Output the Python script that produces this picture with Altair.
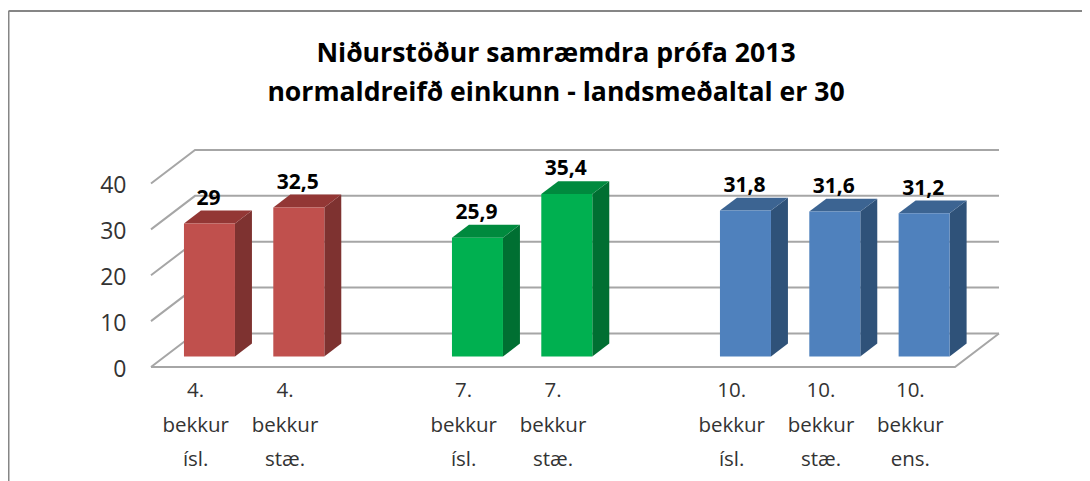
import altair as alt
import pandas as pd

title_lines = ["Niðurstöður samræmdra prófa 2013", "normaldreifð einkunn - landsmeðaltal er 30"]
labels = ["4.\nbekkur\nísl.", "4.\nbekkur\nstæ.", "7.\nbekkur\nísl.", "7.\nbekkur\nstæ.",
          "10.\nbekkur\nísl.", "10.\nbekkur\nstæ.", "10.\nbekkur\nens."]
value_text = ["29", "32,5", "25,9", "35,4", "31,8", "31,6", "31,2"]
values = [29, 32.5, 25.9, 35.4, 31.8, 31.6, 31.2]
slots = [0, 1, 3, 4, 6, 7, 8]
front = ["#C0504D", "#C0504D", "#00B050", "#00B050", "#4F81BD", "#4F81BD", "#4F81BD"]
side = ["#7E3230", "#7E3230", "#006F32", "#006F32", "#2F5279", "#2F5279", "#2F5279"]
top = ["#933735", "#933735", "#008A3E", "#008A3E", "#3C6492", "#3C6492", "#3C6492"]
ticks = [0, 10, 20, 30, 40]

# 3D projection, in data units
DX, DY = 0.4926, 7.31
BX0, BX1, BASE = 0.369, 0.94, 2.3
BDX, BDY = 0.19, 2.8
N = 9
XDOM = [0, N + DX]
YDOM = [0, 40 + DY]
W, H = 848, 217

x = alt.X("x:Q", scale=alt.Scale(domain=XDOM, nice=False, zero=False), axis=None)
y_axis = alt.Axis(values=ticks, domain=False, ticks=False, grid=False, title=None, labelFontSize=23,
                  labelColor="#333333", labelPadding=25, labelFont="Open Sans", labelFlush=False, labelOffset=2)
y = alt.Y("y:Q", scale=alt.Scale(domain=YDOM, nice=False), axis=y_axis)

grid_rows = []
for t in ticks:
    grid_rows += [{"g": t, "o": 0, "x": 0, "y": t},
                  {"g": t, "o": 1, "x": DX, "y": t + DY},
                  {"g": t, "o": 2, "x": N + DX, "y": t + DY}]
grid_rows += [{"g": -1, "o": 0, "x": 0, "y": 0},
              {"g": -1, "o": 1, "x": N, "y": 0},
              {"g": -1, "o": 2, "x": N + DX, "y": DY}]
grid = alt.Chart(pd.DataFrame(grid_rows)).mark_line(color="#A6A6A6", strokeWidth=2).encode(
    x=x, y=y, detail="g:N", order="o:Q")

bars, faces, texts = [], [], []
for i, (s, v) in enumerate(zip(slots, values)):
    x0, x1, t = s + BX0, s + BX1, v + BASE
    bars.append({"x": x0, "x2": x1, "y": BASE, "y2": t, "c": front[i]})
    faces += [{"f": f"s{i}", "x": x1, "y": t, "lo": BASE, "c": side[i]},
              {"f": f"s{i}", "x": x1 + BDX, "y": t + BDY, "lo": BASE + BDY, "c": side[i]},
              {"f": f"t{i}", "x": x0, "y": t, "lo": t, "c": top[i]},
              {"f": f"t{i}", "x": x0 + BDX, "y": t + BDY, "lo": t, "c": top[i]},
              {"f": f"t{i}", "x": x1, "y": t + BDY, "lo": t, "c": top[i]},
              {"f": f"t{i}", "x": x1 + BDX, "y": t + BDY, "lo": t + BDY, "c": top[i]}]
    texts.append({"x": (x0 + x1) / 2, "y": t + BDY, "t": value_text[i], "lab": labels[i], "lx": s + 0.5})

color = alt.Color("c:N", scale=None, legend=None)
face_layer = alt.Chart(pd.DataFrame(faces)).mark_area().encode(
    x=x, y=y, y2=alt.Y2("lo:Q"), detail="f:N", fill=alt.Fill("c:N", scale=None, legend=None))
bar_layer = alt.Chart(pd.DataFrame(bars)).mark_rect().encode(x=x, x2="x2:Q", y=y, y2="y2:Q", color=color)

tdf = pd.DataFrame(texts)
val_layer = alt.Chart(tdf).mark_text(font="Open Sans", fontWeight="bold", fontSize=21, color="#000000",
                                     dy=-12, dx=-1).encode(x=x, y=y, text="t:N")
lab_layer = alt.Chart(tdf).mark_text(font="Open Sans", fontSize=20.5, color="#333333", lineBreak="\n",
                                     lineHeight=34.5, baseline="middle").encode(
    x=alt.X("lx:Q", scale=alt.Scale(domain=XDOM, nice=False, zero=False), axis=None),
    y=alt.value(241), text="lab:N")

title_layer = alt.Chart(pd.DataFrame({"t": ["\n".join(title_lines)]})).mark_text(
    font="Open Sans", fontSize=26.6, fontWeight="bold", color="#000000", lineBreak="\n", lineHeight=38.5,
    baseline="alphabetic", align="center").encode(x=alt.value(405), y=alt.value(-88), text="t:N")

frame_left = alt.Chart(pd.DataFrame({"a": [0]})).mark_rule(color="#868686", strokeWidth=2).encode(
    x=alt.value(-142.5), y=alt.value(-139), y2=alt.value(331))
frame_top = alt.Chart(pd.DataFrame({"a": [0]})).mark_rule(color="#868686", strokeWidth=2).encode(
    y=alt.value(-139), x=alt.value(-142.5), x2=alt.value(931))

chart = alt.layer(frame_left, frame_top, grid, face_layer, bar_layer, val_layer, lab_layer, title_layer).properties(
    width=W, height=H,
    autosize=alt.AutoSizeParams(type="none"),
    padding={"left": 143, "top": 142, "right": 83, "bottom": 114},
).configure_view(stroke=None)

chart.save("out.html", embed_options={"renderer": "svg", "actions": False})
